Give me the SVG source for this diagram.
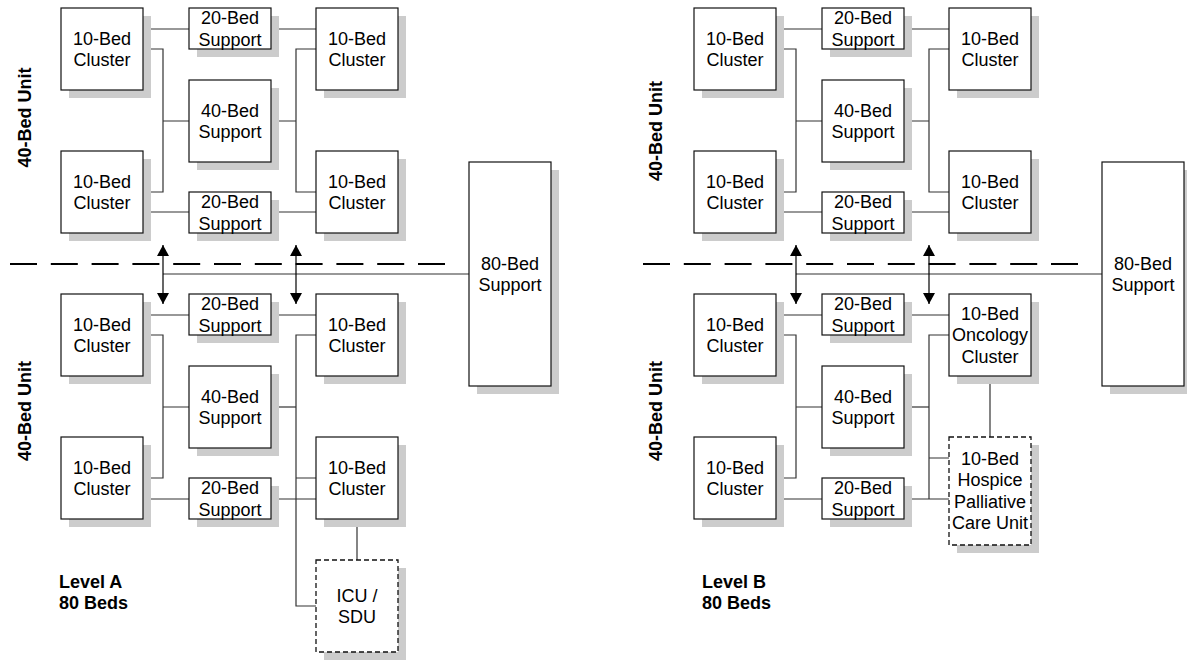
<svg xmlns="http://www.w3.org/2000/svg" width="1187" height="660" viewBox="0 0 1187 660">
<style>
.sh{fill:#cccccc;stroke:none}
.bx{fill:#ffffff;stroke:#111111;stroke-width:1.2}
.dbx{fill:#ffffff;stroke:#111111;stroke-width:1.3;stroke-dasharray:5 3}
.t{font-family:"Liberation Sans",Arial,sans-serif;font-size:18px;text-anchor:middle;fill:#000}
.b{font-family:"Liberation Sans",Arial,sans-serif;font-size:18px;font-weight:bold;fill:#000}
.c{fill:none;stroke:#333;stroke-width:1.2}
.dash{fill:none;stroke:#000;stroke-width:2;stroke-dasharray:27 13.8}
.arr{fill:none;stroke:#000;stroke-width:1.2;marker-start:url(#ah);marker-end:url(#ah)}
</style>
<defs>
<marker id="ah" markerUnits="userSpaceOnUse" markerWidth="12" markerHeight="12" refX="11" refY="6" orient="auto-start-reverse">
<path d="M0,0 L11,6 L0,12 z" fill="#000"/>
</marker>
</defs>
<rect width="1187" height="660" fill="#ffffff"/>

<g id="labels">
<text class="b" transform="translate(31,117.5) rotate(-90)" text-anchor="middle">40-Bed Unit</text>
<text class="b" transform="translate(31,411) rotate(-90)" text-anchor="middle">40-Bed Unit</text>
<text class="b" transform="translate(662,131) rotate(-90)" text-anchor="middle">40-Bed Unit</text>
<text class="b" transform="translate(662,411) rotate(-90)" text-anchor="middle">40-Bed Unit</text>
<text class="b" x="59" y="588">Level A</text>
<text class="b" x="59" y="609">80 Beds</text>
<text class="b" x="702" y="588">Level B</text>
<text class="b" x="702" y="609">80 Beds</text>
</g>

<g id="connectors">
<!-- Level A -->
<path class="dash" d="M10,264 H445"/>
<path class="c" d="M163,274 H469"/>
<path class="arr" d="M163,245 V304"/>
<path class="arr" d="M296,245 V304"/>
<path class="c" d="M143,29 H189 M271,29 H316"/>
<path class="c" d="M143,49 H163 V192 H143 M163,121 H189"/>
<path class="c" d="M316,49 H296 V192 H316 M271,121 H296"/>
<path class="c" d="M143,212 H189 M271,212 H316"/>
<path class="c" d="M143,315 H189 M271,315 H316"/>
<path class="c" d="M143,335 H163 V478 H143 M163,407 H189"/>
<path class="c" d="M271,407 H296"/>
<path class="c" d="M316,335 H296 V606 H316 M296,478 H316"/>
<path class="c" d="M143,499 H189 M271,499 H316"/>
<path class="c" d="M357,519 V560"/>
<!-- Level B -->
<path class="dash" d="M643,264 H1078"/>
<path class="c" d="M796,274 H1102"/>
<path class="arr" d="M796,245 V304"/>
<path class="arr" d="M929,245 V304"/>
<path class="c" d="M776,29 H822 M904,29 H949"/>
<path class="c" d="M776,49 H796 V192 H776 M796,121 H822"/>
<path class="c" d="M949,49 H929 V192 H949 M904,121 H929"/>
<path class="c" d="M776,212 H822 M904,212 H949"/>
<path class="c" d="M776,315 H822 M904,315 H949"/>
<path class="c" d="M776,335 H796 V478 H776 M796,407 H822"/>
<path class="c" d="M904,407 H929"/>
<path class="c" d="M949,335 H929 V499 M929,458 H949"/>
<path class="c" d="M776,499 H822 M904,499 H949"/>
<path class="c" d="M990,376 V437"/>
</g>

<!-- Level A nodes -->
<g id="a-c1"><rect class="sh" x="69" y="16" width="82" height="82"/><rect class="bx" x="61" y="8" width="82" height="82"/><text class="t" y="44.5"><tspan x="102">10-Bed</tspan><tspan x="102" dy="21.6">Cluster</tspan></text></g>
<g id="a-s20a"><rect class="sh" x="197" y="16" width="82" height="41"/><rect class="bx" x="189" y="8" width="82" height="41"/><text class="t" y="24"><tspan x="230">20-Bed</tspan><tspan x="230" dy="21.6">Support</tspan></text></g>
<g id="a-c2"><rect class="sh" x="324" y="16" width="82" height="82"/><rect class="bx" x="316" y="8" width="82" height="82"/><text class="t" y="44.5"><tspan x="357">10-Bed</tspan><tspan x="357" dy="21.6">Cluster</tspan></text></g>
<g id="a-s40a"><rect class="sh" x="197" y="88" width="82" height="82"/><rect class="bx" x="189" y="80" width="82" height="82"/><text class="t" y="116.5"><tspan x="230">40-Bed</tspan><tspan x="230" dy="21.6">Support</tspan></text></g>
<g id="a-c3"><rect class="sh" x="69" y="159" width="82" height="82"/><rect class="bx" x="61" y="151" width="82" height="82"/><text class="t" y="187.5"><tspan x="102">10-Bed</tspan><tspan x="102" dy="21.6">Cluster</tspan></text></g>
<g id="a-s20b"><rect class="sh" x="197" y="200" width="82" height="41"/><rect class="bx" x="189" y="192" width="82" height="41"/><text class="t" y="208"><tspan x="230">20-Bed</tspan><tspan x="230" dy="21.6">Support</tspan></text></g>
<g id="a-c4"><rect class="sh" x="324" y="159" width="82" height="82"/><rect class="bx" x="316" y="151" width="82" height="82"/><text class="t" y="187.5"><tspan x="357">10-Bed</tspan><tspan x="357" dy="21.6">Cluster</tspan></text></g>
<g id="a-s80"><rect class="sh" x="477" y="170" width="82" height="224"/><rect class="bx" x="469" y="162" width="82" height="224"/><text class="t" y="269.5"><tspan x="510">80-Bed</tspan><tspan x="510" dy="21.6">Support</tspan></text></g>
<g id="a-c5"><rect class="sh" x="69" y="302" width="82" height="82"/><rect class="bx" x="61" y="294" width="82" height="82"/><text class="t" y="330.5"><tspan x="102">10-Bed</tspan><tspan x="102" dy="21.6">Cluster</tspan></text></g>
<g id="a-s20c"><rect class="sh" x="197" y="302" width="82" height="41"/><rect class="bx" x="189" y="294" width="82" height="41"/><text class="t" y="310"><tspan x="230">20-Bed</tspan><tspan x="230" dy="21.6">Support</tspan></text></g>
<g id="a-c6"><rect class="sh" x="324" y="302" width="82" height="82"/><rect class="bx" x="316" y="294" width="82" height="82"/><text class="t" y="330.5"><tspan x="357">10-Bed</tspan><tspan x="357" dy="21.6">Cluster</tspan></text></g>
<g id="a-s40b"><rect class="sh" x="197" y="374" width="82" height="82"/><rect class="bx" x="189" y="366" width="82" height="82"/><text class="t" y="402.5"><tspan x="230">40-Bed</tspan><tspan x="230" dy="21.6">Support</tspan></text></g>
<g id="a-c7"><rect class="sh" x="69" y="445" width="82" height="82"/><rect class="bx" x="61" y="437" width="82" height="82"/><text class="t" y="473.5"><tspan x="102">10-Bed</tspan><tspan x="102" dy="21.6">Cluster</tspan></text></g>
<g id="a-s20d"><rect class="sh" x="197" y="486" width="82" height="41"/><rect class="bx" x="189" y="478" width="82" height="41"/><text class="t" y="494"><tspan x="230">20-Bed</tspan><tspan x="230" dy="21.6">Support</tspan></text></g>
<g id="a-c8"><rect class="sh" x="324" y="445" width="82" height="82"/><rect class="bx" x="316" y="437" width="82" height="82"/><text class="t" y="473.5"><tspan x="357">10-Bed</tspan><tspan x="357" dy="21.6">Cluster</tspan></text></g>
<g id="a-icu"><rect class="sh" x="324" y="568" width="82" height="92"/><rect class="dbx" x="316" y="560" width="82" height="92"/><text class="t" y="601.5"><tspan x="357">ICU /</tspan><tspan x="357" dy="21.6">SDU</tspan></text></g>

<!-- Level B nodes -->
<g id="b-c1"><rect class="sh" x="702" y="16" width="82" height="82"/><rect class="bx" x="694" y="8" width="82" height="82"/><text class="t" y="44.5"><tspan x="735">10-Bed</tspan><tspan x="735" dy="21.6">Cluster</tspan></text></g>
<g id="b-s20a"><rect class="sh" x="830" y="16" width="82" height="41"/><rect class="bx" x="822" y="8" width="82" height="41"/><text class="t" y="24"><tspan x="863">20-Bed</tspan><tspan x="863" dy="21.6">Support</tspan></text></g>
<g id="b-c2"><rect class="sh" x="957" y="16" width="82" height="82"/><rect class="bx" x="949" y="8" width="82" height="82"/><text class="t" y="44.5"><tspan x="990">10-Bed</tspan><tspan x="990" dy="21.6">Cluster</tspan></text></g>
<g id="b-s40a"><rect class="sh" x="830" y="88" width="82" height="82"/><rect class="bx" x="822" y="80" width="82" height="82"/><text class="t" y="116.5"><tspan x="863">40-Bed</tspan><tspan x="863" dy="21.6">Support</tspan></text></g>
<g id="b-c3"><rect class="sh" x="702" y="159" width="82" height="82"/><rect class="bx" x="694" y="151" width="82" height="82"/><text class="t" y="187.5"><tspan x="735">10-Bed</tspan><tspan x="735" dy="21.6">Cluster</tspan></text></g>
<g id="b-s20b"><rect class="sh" x="830" y="200" width="82" height="41"/><rect class="bx" x="822" y="192" width="82" height="41"/><text class="t" y="208"><tspan x="863">20-Bed</tspan><tspan x="863" dy="21.6">Support</tspan></text></g>
<g id="b-c4"><rect class="sh" x="957" y="159" width="82" height="82"/><rect class="bx" x="949" y="151" width="82" height="82"/><text class="t" y="187.5"><tspan x="990">10-Bed</tspan><tspan x="990" dy="21.6">Cluster</tspan></text></g>
<g id="b-s80"><rect class="sh" x="1110" y="170" width="82" height="224"/><rect class="bx" x="1102" y="162" width="82" height="224"/><text class="t" y="269.5"><tspan x="1143">80-Bed</tspan><tspan x="1143" dy="21.6">Support</tspan></text></g>
<g id="b-c5"><rect class="sh" x="702" y="302" width="82" height="82"/><rect class="bx" x="694" y="294" width="82" height="82"/><text class="t" y="330.5"><tspan x="735">10-Bed</tspan><tspan x="735" dy="21.6">Cluster</tspan></text></g>
<g id="b-s20c"><rect class="sh" x="830" y="302" width="82" height="41"/><rect class="bx" x="822" y="294" width="82" height="41"/><text class="t" y="310"><tspan x="863">20-Bed</tspan><tspan x="863" dy="21.6">Support</tspan></text></g>
<g id="b-onc"><rect class="sh" x="957" y="302" width="82" height="82"/><rect class="bx" x="949" y="294" width="82" height="82"/><text class="t" y="319.7"><tspan x="990">10-Bed</tspan><tspan x="990" dy="21.6">Oncology</tspan><tspan x="990" dy="21.6">Cluster</tspan></text></g>
<g id="b-s40b"><rect class="sh" x="830" y="374" width="82" height="82"/><rect class="bx" x="822" y="366" width="82" height="82"/><text class="t" y="402.5"><tspan x="863">40-Bed</tspan><tspan x="863" dy="21.6">Support</tspan></text></g>
<g id="b-c7"><rect class="sh" x="702" y="445" width="82" height="82"/><rect class="bx" x="694" y="437" width="82" height="82"/><text class="t" y="473.5"><tspan x="735">10-Bed</tspan><tspan x="735" dy="21.6">Cluster</tspan></text></g>
<g id="b-s20d"><rect class="sh" x="830" y="486" width="82" height="41"/><rect class="bx" x="822" y="478" width="82" height="41"/><text class="t" y="494"><tspan x="863">20-Bed</tspan><tspan x="863" dy="21.6">Support</tspan></text></g>
<g id="b-hosp"><rect class="sh" x="957" y="445" width="82" height="108"/><rect class="dbx" x="949" y="437" width="82" height="108"/><text class="t" y="464.5"><tspan x="990">10-Bed</tspan><tspan x="990" dy="21.6">Hospice</tspan><tspan x="990" dy="21.6">Palliative</tspan><tspan x="990" dy="21.6">Care Unit</tspan></text></g>
</svg>
